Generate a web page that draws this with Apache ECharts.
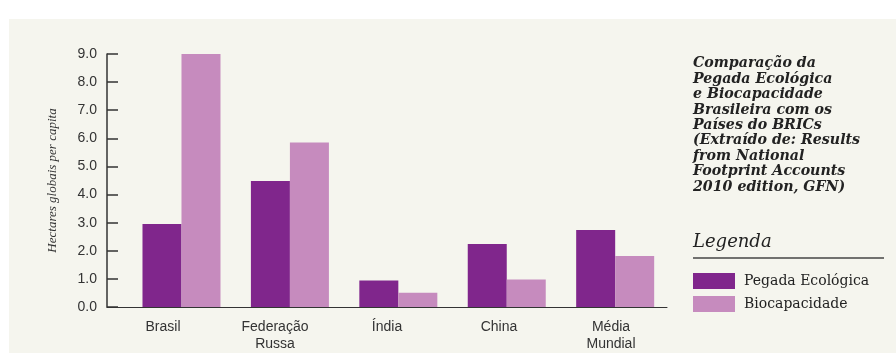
<!DOCTYPE html>
<html>
<head>
<meta charset="utf-8">
<script src="https://cdn.jsdelivr.net/npm/echarts@6/dist/echarts.min.js"></script>
<style>
  html, body { margin: 0; padding: 0; background: #fff; }
  #chart { width: 896px; height: 353px; }
</style>
</head>
<body>
<div id="chart"></div>
<script>
const categories = ['Brasil', 'Federação\nRussa', 'Índia', 'China', 'Média\nMundial']
const pegada = [2.95, 4.48, 0.94, 2.24, 2.74]
const biocapacidade = [9.0, 5.85, 0.51, 0.98, 1.81]
const seriesNames = ['Pegada Ecológica', 'Biocapacidade']
const yMin = 0
const yMax = 9
const yStep = 1

const titulo = 'Comparação da\nPegada Ecológica\ne Biocapacidade\nBrasileira com os\nPaíses do BRICs\n(Extraído de: Results\nfrom National\nFootprint Accounts\n2010 edition, GFN)'

const chart = echarts.init(document.getElementById('chart'))

chart.setOption({
  backgroundColor: '#fff',
  animation: false,
  color: ['#80268c', '#c68bbe'],
  title: {
    text: titulo,
    left: 688,
    top: 51,
    textStyle: {
      fontFamily: 'DejaVu Serif',
      fontStyle: 'italic',
      fontWeight: 'bold',
      fontSize: 14.2,
      lineHeight: 15.4,
      color: '#222'
    }
  },
  legend: {
    orient: 'vertical',
    left: 693,
    top: 273,
    padding: 0,
    itemWidth: 42,
    itemHeight: 16,
    itemGap: 7,
    icon: 'rect',
    data: seriesNames,
    textStyle: {
      fontFamily: 'DejaVu Serif',
      fontSize: 14,
      color: '#222',
      padding: [0, 0, 0, 4]
    }
  },
  graphic: [
    {
      type: 'rect',
      z: -10,
      shape: { x: 9, y: 19, width: 887, height: 334 },
      style: { fill: '#f5f5ee' }
    },
    {
      type: 'text',
      left: 693,
      top: 233,
      style: {
        text: 'Legenda',
        font: 'italic 18px "DejaVu Serif"',
        fill: '#222'
      }
    },
    {
      type: 'line',
      shape: { x1: 693, y1: 258, x2: 884, y2: 258 },
      style: { stroke: '#444', lineWidth: 1.5 }
    }
  ],
  grid: {
    left: 107,
    top: 54,
    width: 560,
    height: 258
  },
  xAxis: [
    {
      type: 'category',
      data: categories,
      axisLine: { lineStyle: { color: '#333', width: 1 } },
      axisTick: { show: false },
      axisLabel: {
        margin: 12,
        fontFamily: 'Liberation Sans',
        fontSize: 14,
        lineHeight: 17,
        color: '#333'
      }
    },
    {
      // hidden axis that places the bar pairs
      type: 'value',
      min: -0.687,
      max: 4.478,
      show: false
    }
  ],
  yAxis: {
    type: 'value',
    min: yMin,
    max: yMax,
    interval: yStep,
    name: 'Hectares globais per capita',
    nameLocation: 'middle',
    nameGap: 48,
    nameTextStyle: {
      fontFamily: 'Liberation Serif',
      fontStyle: 'italic',
      fontSize: 13,
      color: '#333'
    },
    axisLine: { show: true, onZero: false, lineStyle: { color: '#333', width: 1.5 } },
    axisTick: { show: true, inside: true, length: 11, lineStyle: { color: '#333', width: 1.5 } },
    splitLine: { show: false },
    axisLabel: {
      margin: 10,
      fontFamily: 'Liberation Sans',
      fontSize: 14,
      color: '#333',
      formatter: v => v.toFixed(1)
    }
  },
  series: [
    {
      name: seriesNames[0],
      type: 'bar',
      xAxisIndex: 1,
      barWidth: 39,
      barGap: '0%',
      data: pegada.map((v, i) => [i, v])
    },
    {
      name: seriesNames[1],
      type: 'bar',
      xAxisIndex: 1,
      barWidth: 39,
      barGap: '0%',
      data: biocapacidade.map((v, i) => [i, v])
    }
  ]
})
</script>
</body>
</html>
